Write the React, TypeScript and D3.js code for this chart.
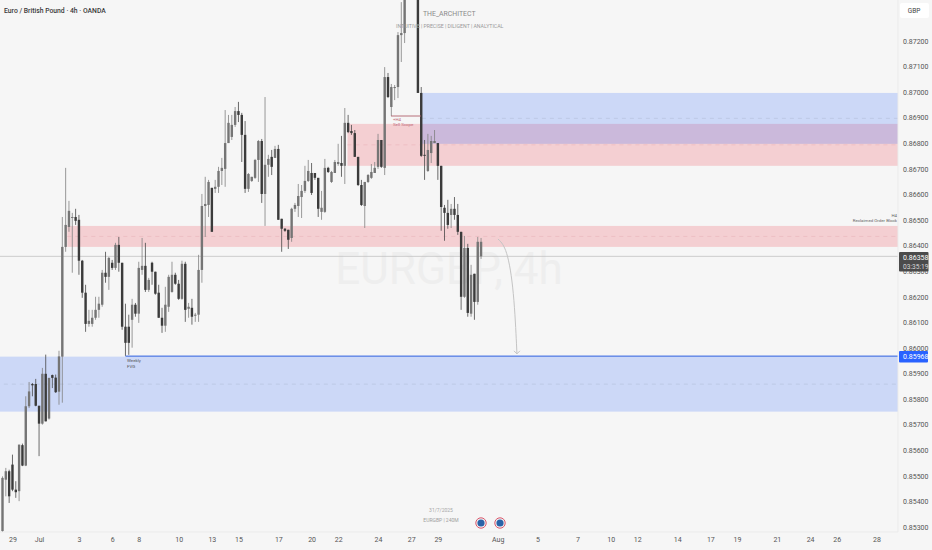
import { useRef, useEffect } from 'react'
import * as d3 from 'd3'

// prices are in 1/100000 of a pound, so 86358 reads 0.86358
const opens = [85284,85485,85518,85544,85446,85440,85620,85540,85772,85859,85859,85774,85704,85899,85724,85894,85884,85829,85966,86395,86473,86508,86512,86501,86341,86216,86094,86094,86118,86149,86169,86294,86278,86333,86313,86403,86333,86083,86083,86110,86169,86134,86305,86321,86227,86333,86298,86216,86118,86087,86161,86219,86286,86251,86192,86329,86153,86157,86126,86130,86305,86555,86559,86626,86622,86630,86692,86700,86801,86825,86872,86926,86911,86833,86622,86653,86665,86735,86809,86602,86716,86747,86743,86778,86505,86466,86462,86430,86544,86555,86590,86614,86653,86684,86684,86665,86532,86532,86704,86649,86684,86719,86723,86712,86880,86848,86840,86747,86637,86555,86649,86665,86684,86708,86813,86704,87059,86942,87016,87020,87223,87231,87380,87458,87485,87407,86997,86755,86692,86762,86801,86801,86712,86548,86528,86520,86544,86520,86454,86200,86391,86134,86290,86180,86358]
const highs = [85498,85531,85524,85583,85479,85622,85626,85811,85867,85863,85879,85774,85922,85974,85883,85896,85896,85989,86512,86704,86575,86528,86544,86520,86344,86247,86149,86149,86200,86200,86305,86376,86356,86344,86411,86434,86333,86173,86130,86192,86176,86337,86430,86411,86274,86337,86298,86247,86157,86239,86286,86337,86294,86266,86341,86337,86176,86192,86137,86364,86602,86669,86657,86626,86657,86708,86743,86930,86911,86911,86942,86962,86919,86887,86684,86669,86739,86813,86817,86981,86755,86774,86790,86794,86505,86469,86462,86548,86567,86641,86637,86712,86735,86723,86684,86665,86614,86739,86708,86692,86735,86798,86829,86938,86911,86872,86852,86747,86657,86649,86680,86719,86727,86837,86813,87098,87075,87032,87028,87235,87352,87399,87477,87516,87536,87438,87020,86813,86837,86829,86852,86801,86712,86559,86579,86563,86590,86563,86454,86438,86407,86325,86290,86434,86430]
const lows = [85277,85420,85394,85440,85414,85401,85538,85538,85765,85811,85772,85577,85700,85713,85720,85843,85824,85778,85786,86376,86454,86294,86481,86286,86196,86063,86083,86083,86110,86118,86161,86255,86227,86305,86305,86298,86071,85969,85973,86001,86122,86098,86286,86219,86219,86247,86208,86118,86059,86063,86141,86216,86247,86188,86188,86102,86118,86091,86102,86102,86255,86434,86512,86454,86606,86606,86637,86630,86801,86813,86864,86883,86727,86606,86610,86649,86661,86649,86567,86477,86669,86676,86743,86501,86376,86454,86387,86415,86532,86512,86508,86606,86649,86598,86657,86512,86501,86528,86684,86645,86684,86712,86669,86641,86840,86833,86747,86633,86555,86469,86645,86661,86684,86700,86704,86676,86977,86907,86969,86977,87118,87192,87372,87399,87391,86997,86747,86657,86688,86723,86801,86657,86458,86419,86466,86469,86501,86442,86149,86196,86122,86122,86110,86169,86348]
const closes = [85492,85518,85420,85446,85436,85622,85540,85772,85830,85854,85774,85704,85899,85713,85883,85883,85827,85967,86395,86481,86536,86512,86497,86341,86216,86094,86106,86118,86149,86173,86294,86278,86352,86313,86403,86333,86083,86020,86020,86169,86134,86313,86321,86227,86266,86298,86212,86118,86087,86169,86278,86286,86251,86192,86329,86149,86161,86122,86130,86305,86555,86563,86649,86454,86630,86692,86704,86801,86880,86872,86926,86911,86833,86622,86680,86669,86735,86809,86602,86716,86739,86708,86778,86501,86466,86458,86423,86544,86559,86594,86614,86653,86692,86606,86665,86544,86548,86704,86688,86688,86727,86727,86712,86880,86844,86840,86747,86637,86559,86649,86676,86688,86704,86813,86708,87059,86981,87020,87020,87223,87231,87380,87458,87485,87407,86997,86751,86751,86774,86809,86809,86712,86551,86528,86481,86544,86520,86454,86200,86391,86137,86286,86180,86415,86415]

const priceTicks = [87200,87100,87000,86900,86800,86700,86600,86500,86400,86300,86200,86100,86000,85900,85800,85700,85600,85500,85400,85300]
const dateLabels = ['29','Jul','3','6','8','10','13','15','17','20','22','24','27','29','Aug','5','7','10','12','14','17','19','21','24','26','28']
const dateBars = [3,11,23,33,41,53,63,71,83,93,101,113,123,131,149,161,173,183,191,203,213,221,233,243,251,263]

const zoneStartBars = [19.5, 103.8, 126.2, -2]
const zoneTops = [86477, 86876, 86997, 85966]
const zoneBottoms = [86395, 86712, 86798, 85751]
const zoneKinds = ['red', 'red', 'blue', 'blue']

const arrowBars = [149.1, 151.8, 153.9, 154.8]
const arrowPrices = [86426, 86391, 86227, 85977]

const lastPrice = 86358
const weeklyLevel = 85968
const weeklyStartBar = 37

const App = () => {
  const ref = useRef<SVGSVGElement>(null)

  useEffect(() => {
    if (!ref.current) return
    const svg = d3.select(ref.current)
    svg.selectAll('*').remove()
    const width = 932
    const height = 550
    const plotRight = 898
    const plotBottom = 532
    const font = 'Roboto, "Noto Sans", sans-serif'

    const x = d3.scaleLinear().domain([0, 30]).range([2.5, 102.2])
    const y = d3.scaleLinear().domain([85300, 87200]).range([527, 41])
    const priceLabel = (p: number) => (p / 100000).toFixed(5)

    svg.append('rect').attr('width', width).attr('height', height).attr('fill', '#f6f6f6')

    const defs = svg.append('defs')
    defs.append('clipPath').attr('id', 'plot')
      .append('rect').attr('width', plotRight).attr('height', plotBottom)
    const soft = defs.append('filter').attr('id', 'soft')
    soft.append('feGaussianBlur').attr('stdDeviation', 0.35)

    const plot = svg.append('g').attr('clip-path', 'url(#plot)')

    // watermark sits under everything
    plot.append('text')
      .attr('x', 449).attr('y', 284)
      .attr('text-anchor', 'middle')
      .attr('font-family', font)
      .attr('font-size', 44)
      .attr('fill', '#eeeeee')
      .text('EURGBP, 4h')

    zoneStartBars.forEach((start, i) => {
      const top = y(zoneTops[i])
      const bottom = y(zoneBottoms[i])
      const isRed = zoneKinds[i] === 'red'
      plot.append('rect')
        .attr('x', x(start)).attr('y', top)
        .attr('width', plotRight - x(start)).attr('height', bottom - top)
        .attr('fill', isRed ? 'rgba(242,54,69,0.2)' : 'rgba(41,98,255,0.2)')
      plot.append('line')
        .attr('x1', x(start)).attr('x2', plotRight)
        .attr('y1', (top + bottom) / 2).attr('y2', (top + bottom) / 2)
        .attr('stroke', isRed ? '#eab4bb' : '#b4c0da')
        .attr('stroke-width', 0.6)
        .attr('stroke-dasharray', '4 4')
    })

    plot.append('line')
      .attr('x1', 0).attr('x2', plotRight)
      .attr('y1', y(lastPrice)).attr('y2', y(lastPrice))
      .attr('stroke', '#bcbcbc').attr('stroke-width', 0.7)

    const candles = plot.append('g').attr('filter', 'url(#soft)')
    const bars = candles.selectAll('g')
      .data(opens.map((o, i) => ({ i, o, h: highs[i], l: lows[i], c: closes[i] })))
      .enter()
      .append('g')
    bars.append('line')
      .attr('x1', d => x(d.i)).attr('x2', d => x(d.i))
      .attr('y1', d => y(d.h)).attr('y2', d => y(d.l))
      .attr('stroke', d => (d.c >= d.o ? '#808080' : '#484848'))
      .attr('stroke-width', 0.8)
    bars.append('rect')
      .attr('x', d => x(d.i) - 1.2)
      .attr('width', 2.4)
      .attr('y', d => y(Math.max(d.o, d.c)))
      .attr('height', d => Math.max(0.8, Math.abs(y(d.o) - y(d.c))))
      .attr('fill', d => (d.c >= d.o ? '#747474' : '#3a3a3a'))

    // weekly level and sell scope marker
    plot.append('line')
      .attr('x1', x(weeklyStartBar)).attr('x2', plotRight)
      .attr('y1', y(weeklyLevel)).attr('y2', y(weeklyLevel))
      .attr('stroke', '#2458e0').attr('stroke-width', 1)
    plot.append('line')
      .attr('x1', 391).attr('x2', 421)
      .attr('y1', 116).attr('y2', 116)
      .attr('stroke', '#b0606c').attr('stroke-width', 0.9)

    const note = (tx: number, ty: number, s: string, fill: string, anchor = 'start', size = 4.4) =>
      plot.append('text')
        .attr('x', tx).attr('y', ty)
        .attr('text-anchor', anchor)
        .attr('font-family', font)
        .attr('font-size', size)
        .attr('fill', fill)
        .text(s)
    note(393, 120.5, '+H4', '#c06a78')
    note(393, 126, 'Sell Scope', '#c06a78')
    note(127, 362, 'Weekly', '#555555')
    note(127, 367.5, 'FVG', '#555555')
    note(897, 217, 'H4', '#666666', 'end')
    note(897, 222, 'Reclaimed Order Block', '#666666', 'end')
    note(423, 15.5, 'THE_ARCHITECT', '#8a8a8a', 'start', 6.9)
    note(396, 28, 'INTUITIVE | PRECISE | DILIGENT | ANALYTICAL', '#9a9a9a', 'start', 5.2)
    note(441, 511.5, '31/7/2025', '#a8a8a8', 'middle', 5)
    note(441, 522, 'EURGBP | 240M', '#a0a0a0', 'middle', 5)

    // projected path
    const arrow = d3.line<number>()
      .x(d => x(d))
      .y((_, i) => y(arrowPrices[i]))
      .curve(d3.curveBasis)
    plot.append('path')
      .attr('d', arrow(arrowBars))
      .attr('fill', 'none')
      .attr('stroke', '#c4c4c4')
      .attr('stroke-width', 1)
    const tipX = x(arrowBars[3])
    const tipY = y(arrowPrices[3])
    plot.append('path')
      .attr('d', `M${tipX - 3},${tipY - 3}L${tipX},${tipY}L${tipX + 3},${tipY - 3}`)
      .attr('fill', 'none')
      .attr('stroke', '#c4c4c4')
      .attr('stroke-width', 1)

    ;[481, 500].forEach(cx => {
      plot.append('circle').attr('cx', cx).attr('cy', 523).attr('r', 5.2)
        .attr('fill', '#f3f3f3').attr('stroke', '#d9566b').attr('stroke-width', 1)
      plot.append('circle').attr('cx', cx).attr('cy', 523).attr('r', 3.6).attr('fill', '#2a63a8')
    })

    // axes
    const yAxis = svg.append('g')
      .attr('transform', `translate(${plotRight},0)`)
      .call(d3.axisRight(y).tickValues(priceTicks).tickSize(0).tickPadding(5).tickFormat(d => priceLabel(+d)))
    yAxis.select('.domain').remove()
    yAxis.selectAll('text').attr('font-family', font).attr('font-size', 7).attr('fill', '#555555')

    const xAxis = svg.append('g')
      .attr('transform', `translate(0,${plotBottom})`)
      .call(d3.axisBottom(x).tickValues(dateBars).tickSize(0).tickPadding(5)
        .tickFormat((_, i) => dateLabels[i]))
    xAxis.select('.domain').remove()
    xAxis.selectAll('text').attr('font-family', font).attr('font-size', 7).attr('fill', '#555555')

    svg.append('line').attr('x1', plotRight).attr('x2', plotRight).attr('y1', 0).attr('y2', plotBottom)
      .attr('stroke', '#ebebeb')
    svg.append('line').attr('x1', 0).attr('x2', plotRight).attr('y1', plotBottom).attr('y2', plotBottom)
      .attr('stroke', '#ebebeb')

    svg.append('text').attr('x', 4).attr('y', 12.5)
      .attr('font-family', font).attr('font-size', 6.8).attr('font-weight', 500).attr('fill', '#3a3a3a')
      .text('Euro / British Pound · 4h · OANDA')

    svg.append('rect').attr('x', 900).attr('y', 3).attr('width', 29).attr('height', 15).attr('rx', 2).attr('fill', '#ffffff')
    svg.append('text').attr('x', 914).attr('y', 12.5).attr('text-anchor', 'middle')
      .attr('font-family', font).attr('font-size', 6.5).attr('fill', '#444444').text('GBP')

    // price tags on the axis
    svg.append('rect').attr('x', 899).attr('y', 252).attr('width', 29.5).attr('height', 19.5).attr('rx', 1).attr('fill', '#4b4b4b')
    svg.append('text').attr('x', 903).attr('y', 259.5)
      .attr('font-family', font).attr('font-size', 7).attr('fill', '#ffffff').text(priceLabel(lastPrice))
    svg.append('text').attr('x', 903).attr('y', 268.5)
      .attr('font-family', font).attr('font-size', 6.6).attr('fill', '#d8d8d8').text('03:35:19')
    svg.append('rect').attr('x', 899).attr('y', 351).attr('width', 29).attr('height', 11.5).attr('rx', 1).attr('fill', '#2962ff')
    svg.append('text').attr('x', 903).attr('y', 359.3)
      .attr('font-family', font).attr('font-size', 7).attr('fill', '#ffffff').text(priceLabel(weeklyLevel))
  }, [])

  return <svg ref={ref} width={932} height={550} style={{ position: 'absolute', left: 0, top: 0 }} />
}

export default App
